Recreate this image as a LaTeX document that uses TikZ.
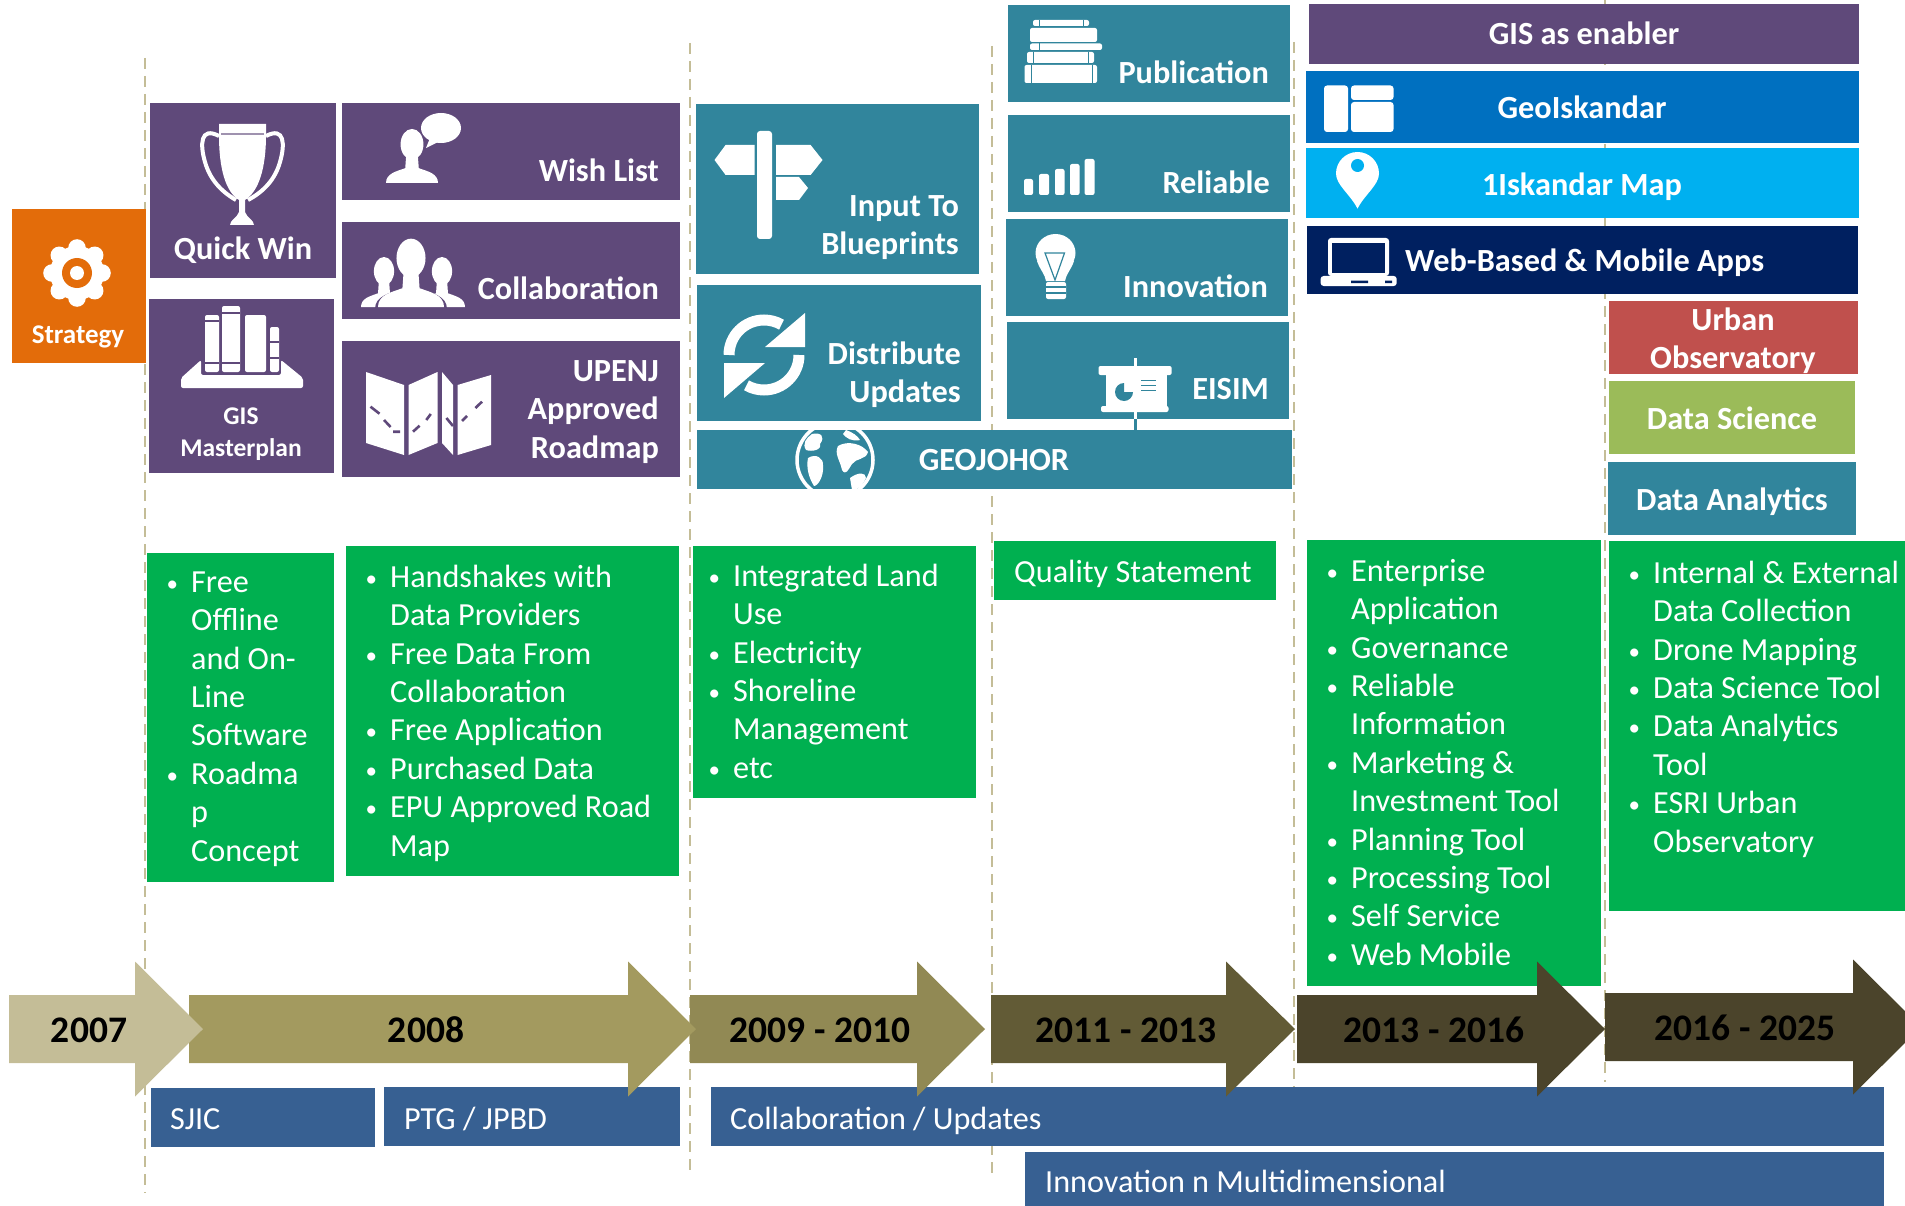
\documentclass[tikz,border=0pt]{standalone}
\usepackage{fontspec}
\setmainfont{Carlito}
\definecolor{cpurple}{HTML}{5F497A}
\definecolor{cteal}{HTML}{31859C}
\definecolor{corange}{HTML}{E36C0A}
\definecolor{cgreen}{HTML}{00B050}
\definecolor{cblue}{HTML}{376092}
\definecolor{cgeo}{HTML}{0070C0}
\definecolor{csky}{HTML}{00B0F0}
\definecolor{cnavy}{HTML}{002060}
\definecolor{cred}{HTML}{C0504D}
\definecolor{colive}{HTML}{9BBB59}
\definecolor{cdash}{HTML}{C4BD97}
\definecolor{aone}{HTML}{C4BD97}
\definecolor{atwo}{HTML}{A39A5F}
\definecolor{athree}{HTML}{918954}
\definecolor{afour}{HTML}{625B36}
\definecolor{afive}{HTML}{4B442B}
\newcommand\fh{\rule{0pt}{27pt}}
\newcommand\blt{\makebox[27pt][l]{\hspace*{2.5pt}\raisebox{1pt}{\fontsize{23}{23}\selectfont\textbullet}}}
\newcommand\nbl{\hspace*{27pt}}
\newcommand\bx[5]{\fill[#1] (#2,#3) rectangle (#4,#5);}
\newcommand\tarrow[5]{\fill[#1] (#2,#5-34) -- (#3,#5-34) -- (#3,#5-67.5) -- (#4,#5) -- (#3,#5+67.5) -- (#3,#5+34) -- (#2,#5+34) -- cycle;}
\newcommand\person[4]{% cx, top, bottom, halfwidth
  \fill (#1,#2+0.27*#3-0.27*#2) ellipse[x radius=#4*0.44,y radius=0.29*#3-0.29*#2];
  \fill (#1-#4*0.22,#2+0.45*#3-0.45*#2) -- (#1+#4*0.22,#2+0.45*#3-0.45*#2) -- (#1+#4*0.26,#2+0.72*#3-0.72*#2)
    .. controls (#1+#4*0.6,#2+0.78*#3-0.78*#2) and (#1+#4,#2+0.82*#3-0.82*#2) .. (#1+#4,#3)
    -- (#1-#4,#3) .. controls (#1-#4,#2+0.82*#3-0.82*#2) and (#1-#4*0.6,#2+0.78*#3-0.78*#2) .. (#1-#4*0.26,#2+0.72*#3-0.72*#2) -- cycle;}
\tikzset{
  lbl/.style={text=white,inner sep=0pt,font=\fontsize{32.3}{38.4}\selectfont\bfseries},
  smalllbl/.style={text=white,inner sep=0pt,font=\fontsize{25.5}{32}\selectfont\bfseries},
  yearlbl/.style={text=black,inner sep=0pt,font=\fontsize{37.5}{40}\selectfont\bfseries},
  plainlbl/.style={text=white,inner sep=0pt,font=\fontsize{32.2}{38.4}\selectfont},
  listbox/.style={plainlbl,align=left,anchor=north west},
  divider/.style={cdash,line width=2.8pt,dash pattern=on 11pt off 7pt},
  ico/.style={white},
  mapdash/.style={cpurple,line width=2.6pt}
}
\begin{document}
\begin{tikzpicture}[x=1pt,y=-1pt]
\useasboundingbox (0,0) rectangle (1905,1206);
\clip (0,0) rectangle (1905,1206);
% dividers
\draw[divider] (145,58) -- (145,1193);
\draw[divider] (690,43) -- (690,1177);
\draw[divider] (992,46) -- (992,1180);
\draw[divider] (1294,42) -- (1294,1087);
\draw[divider] (1605,0) -- (1605,1082);
% strategy + purple
\bx{corange}{12}{209}{146}{363}
\bx{cpurple}{150}{103}{336}{278}
\bx{cpurple}{149}{299}{334}{473}
\bx{cpurple}{342}{103}{680}{200}
\bx{cpurple}{342}{222}{680}{319}
\bx{cpurple}{342}{341}{680}{477}
% teal
\bx{cteal}{696}{104}{979}{274}
\bx{cteal}{697}{285}{981}{421}
\bx{cteal}{697}{430}{1292}{489}
\bx{cteal}{1008}{5}{1290}{102}
\bx{cteal}{1008}{115}{1290}{212}
\bx{cteal}{1006}{219}{1288}{316}
\bx{cteal}{1007}{322}{1289}{419}
% right stack
\bx{cpurple}{1309}{4}{1859}{64}
\bx{cgeo}{1306}{71}{1859}{143}
\bx{csky}{1306}{148}{1859}{218}
\bx{cnavy}{1307}{226}{1858}{294}
\bx{cred}{1609}{301}{1858}{374}
\bx{colive}{1609}{381}{1855}{454}
\bx{cteal}{1608}{462}{1856}{535}
% green
\bx{cgreen}{147}{553}{334}{882}
\bx{cgreen}{346}{546}{679}{876}
\bx{cgreen}{693}{546}{976}{798}
\bx{cgreen}{994}{541}{1276}{600}
\bx{cgreen}{1307}{540}{1601}{986}
\bx{cgreen}{1609}{541}{1905}{911}
% blue
\bx{cblue}{151}{1088}{375}{1147}
\bx{cblue}{384}{1087}{680}{1146}
\bx{cblue}{711}{1087}{1884}{1146}
\bx{cblue}{1025}{1152}{1884}{1206}
% arrows
\tarrow{afive}{1605}{1853}{1921}{1027}
\tarrow{afive}{1297}{1537}{1605}{1029}
\tarrow{afour}{991}{1226}{1295}{1029}
\tarrow{athree}{690}{917}{985}{1029}
\tarrow{atwo}{189}{628}{696}{1029}
\tarrow{aone}{9}{135}{203}{1029}
% gear icon
\begin{scope}[ico]
\foreach \a in {0,45,...,315} \fill (77,273) ++(\a:25) circle[radius=8.8];
\fill (77,273) circle[radius=27];
\fill[corange] (77,273) circle[radius=15];
\fill (77,273) circle[radius=7];
% trophy
\fill (219,124) -- (266,124) -- (266,135) .. controls (266,170) and (258,192) .. (245,200) -- (245,212)
  .. controls (247,218) and (254,220) .. (254,225) -- (230,225) .. controls (230,220) and (237,218) .. (239,212) -- (239,200)
  .. controls (226,192) and (219,170) .. (219,135) -- cycle;
\draw[line width=4pt] (219,136) .. controls (200,126) and (200,145) .. (205,162) .. controls (210,180) and (222,192) .. (236,200);
\draw[line width=4pt] (266,136) .. controls (285,126) and (285,145) .. (280,162) .. controls (275,180) and (263,192) .. (248,200);
\draw[cpurple!60!white,line width=1.5pt] (221,134) -- (264,134);
% person + bubble
\person{412}{130}{183}{26}
\fill (441,128) ellipse[x radius=20,y radius=15];
\fill (430,138) -- (426,148) -- (440,141) -- cycle;
% three persons
\person{384}{258}{307}{23}
\person{442}{258}{307}{23}
\begin{scope}[cpurple]
\person{411}{237}{309}{36}
\end{scope}
\person{411}{240}{307}{33}
% map
\fill (366,372) -- (404,385) -- (404,455) -- (366,443) -- cycle;
\fill (408.5,385) -- (437.5,372) -- (437.5,443) -- (408.5,455) -- cycle;
\fill (442,372) -- (453,385) -- (453,455) -- (442,443) -- cycle;
\fill (457.6,385) -- (491,375) -- (491,445) -- (457.6,455) -- cycle;
\draw[mapdash] (370.5,406.7) -- (379.5,413.7) (384,420) -- (390.6,427) (393,431.7) -- (400,431.7) (413,431.7) -- (419.6,425.7) (426.3,420) -- (430.8,414) (446.4,418) -- (453,426) (462,421) -- (467,416) (475.4,408) -- (482,401.7);
% books + tray
\fill[rounded corners=2pt] (181,388) -- (181,378) -- (201,360) -- (201,375) -- (281,375) -- (281,360) -- (303,378) -- (303,388) -- cycle;
\fill[rounded corners=2pt] (205,315) rectangle (219,372);
\fill[rounded corners=2pt] (222,306) rectangle (240,372);
\fill[rounded corners=2pt] (245,315) rectangle (266,372);
\fill[rounded corners=2pt] (270,327) rectangle (279,372);
\draw[cpurple,line width=1.2pt] (205,321) -- (219,321) (205,363) -- (219,363) (222,313) -- (240,313) (222,363) -- (240,363) (270,342) -- (279,342) (270,358) -- (279,358);
% signpost
\fill[rounded corners=3pt] (757,131) rectangle (772,239);
\fill (714.5,160) -- (725.6,145) -- (754.5,145) -- (754.5,175) -- (725.6,175) -- cycle;
\fill (776,145) -- (810.6,145) -- (822.5,160) -- (810.6,175) -- (776,175) -- cycle;
\fill (776,177) -- (799,177) -- (808,188) -- (799,200) -- (776,200) -- cycle;
% refresh
\draw[line width=11pt] (764,355) ++(180:35) arc[start angle=180,end angle=300,radius=35];
\draw[line width=11pt] (764,355) ++(0:35) arc[start angle=0,end angle=120,radius=35];
\fill (805,313) -- (805,347) -- (765,347) -- cycle;
\fill (724,363) -- (724,398) -- (765,363) -- cycle;
% book stack
\fill[rounded corners=2pt] (1033,20) rectangle (1089,26);
\fill[rounded corners=2pt] (1030,28) rectangle (1097,42);
\fill[rounded corners=2pt] (1030,43.5) rectangle (1102,50);
\fill[rounded corners=2pt] (1027,52) rectangle (1094,63);
\fill[rounded corners=2pt] (1024.5,65) rectangle (1097,83);
\draw[cteal,line width=1pt] (1039,20) -- (1039,26) (1083,20) -- (1083,26) (1039,43.5) -- (1039,50) (1033,52) -- (1033,63) (1088,52) -- (1088,63) (1031,65) -- (1031,83) (1092,65) -- (1092,83);
% bars
\fill[rounded corners=2pt] (1024,179) rectangle (1033,195);
\fill[rounded corners=2pt] (1039,174) rectangle (1049,195);
\fill[rounded corners=2pt] (1055,169) rectangle (1064.5,195);
\fill[rounded corners=2pt] (1070,164) rectangle (1079.5,195);
\fill[rounded corners=2pt] (1084.6,159) rectangle (1094.5,195);
% bulb
\fill (1055.5,253) ellipse[x radius=20,y radius=19];
\fill (1037,261) .. controls (1040,270) and (1045,274) .. (1046,281) -- (1065,281) .. controls (1066,274) and (1071,270) .. (1074,261) -- cycle;
\fill[rounded corners=2pt] (1046,282) rectangle (1066,299);
\draw[cteal,line width=1.2pt] (1045,253) -- (1064.5,253) -- (1055,280) -- cycle;
\draw[cteal,line width=1.2pt] (1046,287) -- (1066,287) (1046,293) -- (1066,293);
% presentation
\fill (1133.5,358) rectangle (1136.5,366);
\fill[rounded corners=2pt] (1098.5,366) rectangle (1171.6,375);
\fill (1106,375) rectangle (1166.5,406);
\fill[rounded corners=2pt] (1101,406) rectangle (1168.5,412);
\fill (1133.5,412) rectangle (1136.5,419);
\fill[cteal] (1133.5,419) rectangle (1136.5,430);
\fill[cteal] (1127,430) rectangle (1131,433) (1140,430) rectangle (1144,433);
\fill[cteal] (1124,392) ++(0:9) arc[start angle=0,end angle=270,radius=9] -- (1124,392) -- cycle;
\draw[cteal,line width=1pt] (1141,380) -- (1156,380) (1141,385) -- (1156,385) (1141,390) -- (1156,390);
% globe
\begin{scope}
\clip (697,430) rectangle (1292,489);
\draw[line width=3.5pt] (835,460) circle[radius=38];
\fill (812,434) .. controls (820,432) and (826,436) .. (820,444) .. controls (822,450) and (812,452) .. (806,450) .. controls (802,444) and (806,438) .. (812,434) -- cycle;
\fill (808,458) .. controls (816,453) and (824,458) .. (823,466) .. controls (824,476) and (818,486) .. (814,486) .. controls (809,478) and (806,468) .. (808,458) -- cycle;
\fill (838,446) .. controls (848,440) and (862,444) .. (868,452) .. controls (866,460) and (856,458) .. (852,464) .. controls (848,470) and (846,476) .. (842,470) .. controls (840,460) and (834,454) .. (838,446) -- cycle;
\fill (846,430) .. controls (852,432) and (858,436) .. (860,440) .. controls (852,442) and (846,438) .. (843,434) -- cycle;
\fill (850,478) .. controls (858,472) and (866,472) .. (866,478) .. controls (862,486) and (858,490) .. (852,490) -- cycle;
\end{scope}
% layout
\fill[rounded corners=3pt] (1324,85.5) rectangle (1348,132);
\fill[rounded corners=3pt] (1351,85.5) rectangle (1393.5,100);
\fill[rounded corners=3pt] (1351,102) rectangle (1393.5,132);
% pin
\fill (1357.5,208.6) .. controls (1350,194) and (1336,185) .. (1336,173.5) arc[start angle=180,end angle=360,radius=21.5] .. controls (1379,185) and (1365,194) .. (1357.5,208.6) -- cycle;
\fill[csky] (1357.5,165.5) circle[radius=6.5];
% laptop
\fill[rounded corners=3pt] (1328,238) rectangle (1389,276);
\fill[cnavy] (1332,243) rectangle (1385,273);
\fill[rounded corners=3pt] (1320.6,276) rectangle (1396.7,286);
\fill[cnavy] (1351,280.5) rectangle (1368,283) (1385,280.5) rectangle (1392,283);
\end{scope}
% labels
\node[lbl,font=\fontsize{27}{30}\selectfont\bfseries,anchor=base] (strategy) at (78,343) {Strategy};
\node[lbl,anchor=base] (quickwin) at (243,259) {Quick Win};
\node[smalllbl,align=center,anchor=north] (gismp) at (241,397) {\rule{0pt}{27pt}GIS\\Masterplan};
\node[lbl,anchor=base east] (wish) at (659,182) {Wish List};
\node[lbl,anchor=base east] (collab) at (659,299) {Collaboration};
\node[lbl,align=right,anchor=north east] (upenj) at (659,354) {\fh UPENJ\\Approved\\Roadmap};
\node[lbl,align=right,anchor=north east] (input) at (959,189) {\fh Input To\\Blueprints};
\node[lbl,align=right,anchor=north east] (distr) at (961,337) {\fh Distribute\\Updates};
\node[lbl,anchor=base] (geojohor) at (994,470) {GEOJOHOR};
\node[lbl,anchor=base east] (pub) at (1269,84) {Publication};
\node[lbl,anchor=base east] (rel) at (1270,194) {Reliable};
\node[lbl,anchor=base east] (inno) at (1268,297) {Innovation};
\node[lbl,anchor=base east] (eisim) at (1269,399) {EISIM};
\node[lbl,anchor=base] (enabler) at (1584,45) {GIS as enabler};
\node[lbl,anchor=base] (geoisk) at (1582,119) {GeoIskandar};
\node[lbl,anchor=base] (oneisk) at (1582,196) {1Iskandar Map};
\node[lbl,anchor=base west] (web) at (1405,272) {Web-Based \& Mobile Apps};
\node[lbl,align=center,anchor=north] (urban) at (1733,303) {\fh Urban\\Observatory};
\node[lbl,anchor=base] (dsci) at (1732,429) {Data Science};
\node[lbl,anchor=base] (dana) at (1732,510) {Data Analytics};
% green lists
\node[listbox] (g1) at (164,565) {\fh\blt Free\\\nbl Offline\\\nbl and On-\\\nbl Line\\\nbl Software\\\blt Roadma\\\nbl p\\\nbl Concept};
\node[listbox] (g2) at (363,560) {\fh\blt Handshakes with\\\nbl Data Providers\\\blt Free Data From\\\nbl Collaboration\\\blt Free Application\\\blt Purchased Data\\\blt EPU Approved Road\\\nbl Map};
\node[listbox] (g3) at (706,559) {\fh\blt Integrated Land\\\nbl Use\\\blt Electricity\\\blt Shoreline\\\nbl Management\\\blt etc};
\node[plainlbl,anchor=base west] (g4) at (1014,582) {Quality Statement};
\node[listbox] (g5) at (1324,554) {\fh\blt Enterprise\\\nbl Application\\\blt Governance\\\blt Reliable\\\nbl Information\\\blt Marketing \&\\\nbl Investment Tool\\\blt Planning Tool\\\blt Processing Tool\\\blt Self Service\\\blt Web Mobile};
\node[listbox] (g6) at (1626,556) {\fh\blt Internal \& External\\\nbl Data Collection\\\blt Drone Mapping\\\blt Data Science Tool\\\blt Data Analytics\\\nbl Tool\\\blt ESRI Urban\\\nbl Observatory};
% years
\node[yearlbl,anchor=base] (y1) at (89,1042) {2007};
\node[yearlbl,anchor=base] (y2) at (426,1042) {2008};
\node[yearlbl,anchor=base] (y3) at (820,1042) {2009 - 2010};
\node[yearlbl,anchor=base] (y4) at (1126,1042) {2011 - 2013};
\node[yearlbl,anchor=base] (y5) at (1434,1042) {2013 - 2016};
\node[yearlbl,anchor=base] (y6) at (1745,1040) {2016 - 2025};
% blue labels
\node[plainlbl,anchor=base west] (b1) at (170,1129) {SJIC};
\node[plainlbl,anchor=base west] (b2) at (404,1129) {PTG / JPBD};
\node[plainlbl,anchor=base west] (b3) at (730,1129) {Collaboration / Updates};
\node[plainlbl,anchor=base west] (b4) at (1045,1192) {Innovation n Multidimensional};
\end{tikzpicture}
\end{document}
